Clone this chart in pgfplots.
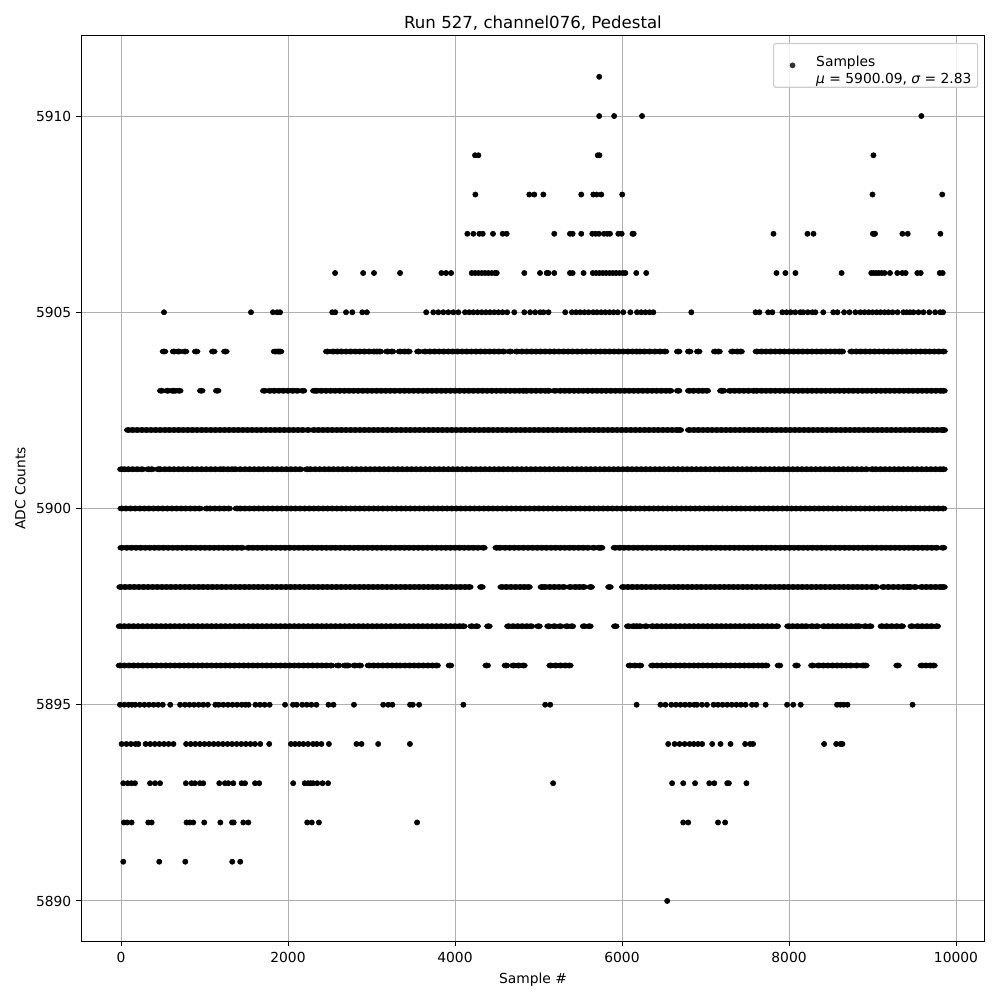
\documentclass[border=0pt]{standalone}
\usepackage{pgfplots}
\pgfplotsset{compat=1.18}
\usepackage{fontspec}
\setmainfont{DejaVu Sans}
\begin{document}
\begin{tikzpicture}
\path[use as bounding box] (-58.54pt,-42.64pt) rectangle (664.16pt,680.06pt);
\begin{axis}[
  at={(0pt,0pt)},anchor=south west,
  scale only axis,width=653.3pt,height=654.05pt,
  xmin=-479,xmax=10347,ymin=5888.98,ymax=5912.04,
  xtick={0,2000,4000,6000,8000,10000},
  ytick={5890,5895,5900,5905,5910},
  scaled ticks=false,
  tick style={black,line width=0.7pt},
  tick align=outside,
  major tick length=3.5pt,
  axis line style={line width=0.7pt},
  xtick pos=bottom,ytick pos=left,
  grid=major,
  major grid style={color=black!31,line width=0.7pt},
  xticklabel style={font=\fontsize{10}{12}\selectfont,yshift=-1.4pt,/pgf/number format/1000 sep={},/pgf/number format/assume math mode=true},
  yticklabel style={font=\fontsize{10}{12}\selectfont,/pgf/number format/1000 sep={},/pgf/number format/assume math mode=true},
  xlabel={Sample \#},ylabel={ADC Counts},
  label style={font=\fontsize{10}{12}\selectfont},
  ylabel style={yshift=0.7pt},
  title={Run 527, channel076, Pedestal},
  title style={font=\fontsize{12}{14}\selectfont,yshift=-5.6pt},
  legend style={at={(0.9925,0.9923)},anchor=north east,draw=black!20,rounded corners=1.5pt,fill=white,fill opacity=0.8,text opacity=1,font=\fontsize{10}{12.8}\selectfont,inner xsep=2.5pt,inner ysep=5.4pt,line width=0.8pt},
  legend cell align=left,
  legend image code/.code={\path[draw=none,fill=none] (0,0) -- (26.3pt,0); \fill[black,draw=none] (11.2pt,0) circle (2.1pt);},
]
\addplot[only marks,mark=*,mark size=1.9pt,black,mark options={draw=black,fill=black}] coordinates {
(5727,5911)
(5727,5910)(5906,5910)(6240,5910)(9585,5910)
(4240,5909)(4280,5909)(5710,5909)(5730,5909)(9011,5909)
(4244,5908)(4890,5908)(4950,5908)(5058,5908)(5512,5908)(5656,5908)(5696,5908)(5752,5908)(6003,5908)(9000,5908)(9835,5908)
(4148,5907)(4220,5907)(4292,5907)(4332,5907)(4455,5907)(4571,5907)(4619,5907)(5189,5907)(5377,5907)(5409,5907)(5512,5907)(5644,5907)(5684,5907)(5724,5907)(5784,5907)(5824,5907)(5856,5907)(5956,5907)(5996,5907)(6125,5907)(6140,5907)(7814,5907)(8221,5907)(8293,5907)(9005,5907)(9020,5907)(9030,5907)(9358,5907)(9422,5907)(9813,5907)
(2564,5906)(2900,5906)(3030,5906)(3342,5906)(3837,5906)(3893,5906)(3953,5906)(4200,5906)(4240,5906)(4280,5906)(4320,5906)(4360,5906)(4400,5906)(4440,5906)(4480,5906)(4500,5906)(4830,5906)(5018,5906)(5098,5906)(5120,5906)(5189,5906)(5377,5906)(5409,5906)(5540,5906)(5650,5906)(5690,5906)(5730,5906)(5770,5906)(5810,5906)(5850,5906)(5890,5906)(5930,5906)(5970,5906)(6010,5906)(6040,5906)(6171,5906)(6290,5906)(7850,5906)(7957,5906)(8077,5906)(8630,5906)(8985,5906)(9015,5906)(9045,5906)(9075,5906)(9110,5906)(9145,5906)(9209,5906)(9297,5906)(9357,5906)(9397,5906)(9537,5906)(9577,5906)(9805,5906)(9840,5906)
(515,5905)(1557,5905)(1820,5905)(1870,5905)(1905,5905)(2530,5905)(2565,5905)(2695,5905)(2770,5905)(2890,5905)(2945,5905)(3655,5905)(3740,5905)(3800,5905)(3860,5905)(3920,5905)(3980,5905)(4040,5905)(4120,5905)(4170,5905)(4220,5905)(4270,5905)(4320,5905)(4370,5905)(4420,5905)(4470,5905)(4520,5905)(4570,5905)(4625,5905)(4710,5905)(4830,5905)(4900,5905)(4960,5905)(5020,5905)(5060,5905)(5120,5905)(5320,5905)(5400,5905)(5450,5905)(5500,5905)(5550,5905)(5600,5905)(5655,5905)(5700,5905)(5750,5905)(5800,5905)(5850,5905)(5900,5905)(5950,5905)(6015,5905)(6100,5905)(6180,5905)(6230,5905)(6280,5905)(6330,5905)(6375,5905)(6830,5905)(7600,5905)(7645,5905)(7750,5905)(7800,5905)(7920,5905)(7970,5905)(8020,5905)(8075,5905)(8135,5905)(8170,5905)(8225,5905)(8280,5905)(8315,5905)(8410,5905)(8530,5905)(8580,5905)(8660,5905)(8725,5905)(8795,5905)(8855,5905)(8905,5905)(8955,5905)(9000,5905)(9050,5905)(9095,5905)(9145,5905)(9190,5905)(9240,5905)(9300,5905)(9370,5905)(9410,5905)(9450,5905)(9490,5905)(9550,5905)(9610,5905)(9680,5905)(9750,5905)(9810,5905)(9845,5905)
(-12,5895)(40,5895)(90,5895)(130,5895)(170,5895)(225,5895)(280,5895)(335,5895)(390,5895)(445,5895)(500,5895)(590,5895)(708,5895)(765,5895)(820,5895)(875,5895)(930,5895)(985,5895)(1040,5895)(1130,5895)(1170,5895)(1225,5895)(1280,5895)(1335,5895)(1390,5895)(1445,5895)(1490,5895)(1528,5895)(1610,5895)(1665,5895)(1720,5895)(1780,5895)(1965,5895)(2060,5895)(2105,5895)(2170,5895)(2225,5895)(2280,5895)(2340,5895)(2485,5895)(2545,5895)(2790,5895)(3140,5895)(3200,5895)(3250,5895)(3462,5895)(3494,5895)(3570,5895)(4100,5895)(5080,5895)(5140,5895)(6175,5895)(6460,5895)(6520,5895)(6590,5895)(6645,5895)(6700,5895)(6755,5895)(6810,5895)(6865,5895)(6897,5895)(6957,5895)(7017,5895)(7097,5895)(7150,5895)(7205,5895)(7260,5895)(7315,5895)(7370,5895)(7425,5895)(7480,5895)(7557,5895)(7607,5895)(7720,5895)(7977,5895)(8050,5895)(8140,5895)(8575,5895)(8615,5895)(8655,5895)(8700,5895)(9480,5895)
(8,5894)(65,5894)(120,5894)(175,5894)(208,5894)(295,5894)(350,5894)(405,5894)(460,5894)(515,5894)(570,5894)(628,5894)(780,5894)(835,5894)(890,5894)(945,5894)(1000,5894)(1055,5894)(1110,5894)(1165,5894)(1220,5894)(1275,5894)(1330,5894)(1385,5894)(1440,5894)(1495,5894)(1550,5894)(1605,5894)(1668,5894)(1775,5894)(2035,5894)(2085,5894)(2135,5894)(2185,5894)(2240,5894)(2300,5894)(2345,5894)(2400,5894)(2490,5894)(2820,5894)(2880,5894)(3080,5894)(3460,5894)(6553,5894)(6630,5894)(6690,5894)(6750,5894)(6810,5894)(6860,5894)(6910,5894)(6960,5894)(7080,5894)(7180,5894)(7300,5894)(7475,5894)(7535,5894)(7570,5894)(8420,5894)(8565,5894)(8615,5894)(8640,5894)
(27,5893)(80,5893)(125,5893)(167,5893)(348,5893)(408,5893)(468,5893)(777,5893)(845,5893)(885,5893)(945,5893)(985,5893)(1177,5893)(1245,5893)(1285,5893)(1345,5893)(1445,5893)(1485,5893)(1605,5893)(1655,5893)(2062,5893)(2200,5893)(2240,5893)(2270,5893)(2300,5893)(2350,5893)(2413,5893)(2480,5893)(5175,5893)(6600,5893)(6733,5893)(6875,5893)(7045,5893)(7105,5893)(7260,5893)(7280,5893)(7490,5893)
(35,5892)(75,5892)(127,5892)(327,5892)(367,5892)(785,5892)(825,5892)(865,5892)(997,5892)(1190,5892)(1330,5892)(1350,5892)(1465,5892)(1525,5892)(2230,5892)(2285,5892)(2370,5892)(3546,5892)(6733,5892)(6793,5892)(7150,5892)(7235,5892)
(27,5891)(458,5891)(770,5891)(1332,5891)(1428,5891)
(6541,5890)
};
\addlegendentry{\begin{tabular}{@{}l@{}}Samples\\{\itshape μ} = 5900.09, {\itshape σ} = 2.83\end{tabular}}
\addplot[forget plot,only marks,mark=*,mark size=1.9pt,black,mark options={draw=black,fill=black,xscale=1.5}] coordinates {
(515,5904)(635,5904)(690,5904)(767,5904)(900,5904)(1105,5904)(1250,5904)(1845,5904)(1880,5904)(1905,5904)(2470,5904)(2540,5904)(2590,5904)(2640,5904)(2695,5904)(2750,5904)(2805,5904)(2860,5904)(2915,5904)(2970,5904)(3030,5904)(3065,5904)(3100,5904)(3190,5904)(3245,5904)(3342,5904)(3400,5904)(3442,5904)(3562,5904)(3640,5904)(3700,5904)(3755,5904)(3810,5904)(3865,5904)(3920,5904)(3975,5904)(4030,5904)(4085,5904)(4140,5904)(4195,5904)(4250,5904)(4305,5904)(4360,5904)(4415,5904)(4470,5904)(4525,5904)(4580,5904)(4660,5904)(4740,5904)(4800,5904)(4860,5904)(4915,5904)(4970,5904)(5025,5904)(5080,5904)(5135,5904)(5190,5904)(5245,5904)(5300,5904)(5355,5904)(5410,5904)(5465,5904)(5520,5904)(5575,5904)(5630,5904)(5685,5904)(5740,5904)(5795,5904)(5850,5904)(5905,5904)(5960,5904)(6015,5904)(6070,5904)(6125,5904)(6175,5904)(6215,5904)(6270,5904)(6330,5904)(6395,5904)(6455,5904)(6515,5904)(6673,5904)(6805,5904)(6913,5904)(7116,5904)(7156,5904)(7323,5904)(7380,5904)(7420,5904)(7615,5904)(7670,5904)(7725,5904)(7780,5904)(7835,5904)(7890,5904)(7945,5904)(8000,5904)(8055,5904)(8110,5904)(8165,5904)(8220,5904)(8275,5904)(8330,5904)(8385,5904)(8440,5904)(8495,5904)(8550,5904)(8600,5904)(8632,5904)(8750,5904)(8805,5904)(8860,5904)(8915,5904)(8970,5904)(9025,5904)(9080,5904)(9135,5904)(9190,5904)(9245,5904)(9300,5904)(9355,5904)(9410,5904)(9465,5904)(9520,5904)(9575,5904)(9630,5904)(9685,5904)(9740,5904)(9795,5904)(9850,5904)
(482,5903)(558,5903)(618,5903)(646,5903)(698,5903)(961,5903)(1152,5903)(1715,5903)(1783,5903)(1835,5903)(1890,5903)(1945,5903)(2000,5903)(2055,5903)(2110,5903)(2180,5903)(2315,5903)(2345,5903)(2400,5903)(2455,5903)(2510,5903)(2565,5903)(2620,5903)(2675,5903)(2730,5903)(2785,5903)(2840,5903)(2895,5903)(2950,5903)(3005,5903)(3060,5903)(3115,5903)(3170,5903)(3225,5903)(3280,5903)(3340,5903)(3395,5903)(3450,5903)(3505,5903)(3560,5903)(3615,5903)(3670,5903)(3725,5903)(3780,5903)(3835,5903)(3890,5903)(3945,5903)(4000,5903)(4055,5903)(4110,5903)(4165,5903)(4220,5903)(4275,5903)(4330,5903)(4385,5903)(4440,5903)(4495,5903)(4550,5903)(4605,5903)(4660,5903)(4715,5903)(4770,5903)(4820,5903)(4860,5903)(4915,5903)(4970,5903)(5025,5903)(5080,5903)(5120,5903)(5197,5903)(5260,5903)(5315,5903)(5370,5903)(5425,5903)(5480,5903)(5535,5903)(5590,5903)(5645,5903)(5700,5903)(5755,5903)(5810,5903)(5865,5903)(5920,5903)(5975,5903)(6030,5903)(6085,5903)(6140,5903)(6195,5903)(6250,5903)(6305,5903)(6360,5903)(6415,5903)(6470,5903)(6525,5903)(6575,5903)(6673,5903)(6805,5903)(6857,5903)(6916,5903)(6965,5903)(7016,5903)(7190,5903)(7210,5903)(7295,5903)(7350,5903)(7405,5903)(7460,5903)(7515,5903)(7575,5903)(7615,5903)(7670,5903)(7725,5903)(7780,5903)(7835,5903)(7890,5903)(7945,5903)(8000,5903)(8055,5903)(8110,5903)(8165,5903)(8220,5903)(8275,5903)(8330,5903)(8385,5903)(8440,5903)(8495,5903)(8550,5903)(8605,5903)(8660,5903)(8715,5903)(8770,5903)(8825,5903)(8880,5903)(8935,5903)(8990,5903)(9045,5903)(9100,5903)(9155,5903)(9210,5903)(9265,5903)(9320,5903)(9375,5903)(9430,5903)(9485,5903)(9540,5903)(9595,5903)(9650,5903)(9705,5903)(9760,5903)(9815,5903)(9850,5903)
(87,5902)(140,5902)(195,5902)(250,5902)(305,5902)(360,5902)(415,5902)(470,5902)(525,5902)(580,5902)(635,5902)(690,5902)(745,5902)(800,5902)(855,5902)(910,5902)(965,5902)(1020,5902)(1075,5902)(1130,5902)(1185,5902)(1240,5902)(1295,5902)(1350,5902)(1405,5902)(1460,5902)(1515,5902)(1570,5902)(1625,5902)(1680,5902)(1735,5902)(1790,5902)(1845,5902)(1900,5902)(1955,5902)(2010,5902)(2065,5902)(2120,5902)(2175,5902)(2240,5902)(2310,5902)(2365,5902)(2420,5902)(2475,5902)(2530,5902)(2585,5902)(2640,5902)(2695,5902)(2750,5902)(2805,5902)(2860,5902)(2915,5902)(2970,5902)(3025,5902)(3080,5902)(3135,5902)(3190,5902)(3245,5902)(3300,5902)(3355,5902)(3410,5902)(3465,5902)(3520,5902)(3575,5902)(3630,5902)(3685,5902)(3740,5902)(3795,5902)(3850,5902)(3905,5902)(3960,5902)(4015,5902)(4070,5902)(4125,5902)(4180,5902)(4235,5902)(4290,5902)(4345,5902)(4400,5902)(4455,5902)(4510,5902)(4565,5902)(4620,5902)(4675,5902)(4730,5902)(4785,5902)(4840,5902)(4895,5902)(4950,5902)(5005,5902)(5060,5902)(5115,5902)(5170,5902)(5225,5902)(5280,5902)(5335,5902)(5390,5902)(5445,5902)(5500,5902)(5555,5902)(5610,5902)(5665,5902)(5720,5902)(5775,5902)(5830,5902)(5885,5902)(5940,5902)(5995,5902)(6050,5902)(6105,5902)(6160,5902)(6215,5902)(6270,5902)(6325,5902)(6380,5902)(6435,5902)(6490,5902)(6545,5902)(6600,5902)(6655,5902)(6693,5902)(6805,5902)(6860,5902)(6915,5902)(6970,5902)(7025,5902)(7080,5902)(7135,5902)(7190,5902)(7245,5902)(7300,5902)(7355,5902)(7410,5902)(7465,5902)(7520,5902)(7575,5902)(7630,5902)(7685,5902)(7740,5902)(7795,5902)(7850,5902)(7905,5902)(7960,5902)(8015,5902)(8070,5902)(8125,5902)(8180,5902)(8235,5902)(8290,5902)(8345,5902)(8400,5902)(8455,5902)(8510,5902)(8565,5902)(8620,5902)(8675,5902)(8730,5902)(8785,5902)(8840,5902)(8895,5902)(8950,5902)(9005,5902)(9060,5902)(9115,5902)(9170,5902)(9225,5902)(9280,5902)(9335,5902)(9390,5902)(9445,5902)(9500,5902)(9555,5902)(9610,5902)(9665,5902)(9720,5902)(9775,5902)(9830,5902)(9855,5902)
(5,5901)(40,5901)(88,5901)(140,5901)(195,5901)(250,5901)(328,5901)(368,5901)(448,5901)(468,5901)(525,5901)(580,5901)(635,5901)(690,5901)(745,5901)(800,5901)(855,5901)(910,5901)(965,5901)(1020,5901)(1075,5901)(1130,5901)(1188,5901)(1228,5901)(1280,5901)(1330,5901)(1368,5901)(1428,5901)(1485,5901)(1540,5901)(1595,5901)(1650,5901)(1705,5901)(1760,5901)(1815,5901)(1870,5901)(1925,5901)(1980,5901)(2035,5901)(2090,5901)(2145,5901)(2228,5901)(2268,5901)(2325,5901)(2380,5901)(2435,5901)(2490,5901)(2545,5901)(2600,5901)(2655,5901)(2710,5901)(2765,5901)(2820,5901)(2875,5901)(2930,5901)(2985,5901)(3040,5901)(3095,5901)(3150,5901)(3205,5901)(3260,5901)(3315,5901)(3370,5901)(3425,5901)(3480,5901)(3535,5901)(3590,5901)(3645,5901)(3700,5901)(3755,5901)(3810,5901)(3865,5901)(3920,5901)(3975,5901)(4030,5901)(4085,5901)(4140,5901)(4195,5901)(4250,5901)(4305,5901)(4360,5901)(4415,5901)(4470,5901)(4525,5901)(4580,5901)(4635,5901)(4690,5901)(4745,5901)(4800,5901)(4855,5901)(4910,5901)(4965,5901)(5020,5901)(5075,5901)(5130,5901)(5185,5901)(5240,5901)(5295,5901)(5350,5901)(5405,5901)(5460,5901)(5515,5901)(5570,5901)(5625,5901)(5680,5901)(5735,5901)(5790,5901)(5845,5901)(5900,5901)(5955,5901)(6010,5901)(6065,5901)(6120,5901)(6175,5901)(6230,5901)(6285,5901)(6340,5901)(6395,5901)(6450,5901)(6505,5901)(6560,5901)(6615,5901)(6670,5901)(6725,5901)(6780,5901)(6835,5901)(6890,5901)(6945,5901)(7000,5901)(7055,5901)(7110,5901)(7165,5901)(7220,5901)(7275,5901)(7330,5901)(7385,5901)(7440,5901)(7495,5901)(7550,5901)(7605,5901)(7660,5901)(7715,5901)(7770,5901)(7825,5901)(7880,5901)(7935,5901)(7990,5901)(8045,5901)(8100,5901)(8155,5901)(8210,5901)(8265,5901)(8320,5901)(8375,5901)(8430,5901)(8485,5901)(8540,5901)(8595,5901)(8650,5901)(8705,5901)(8760,5901)(8815,5901)(8870,5901)(8925,5901)(8997,5901)(9040,5901)(9095,5901)(9150,5901)(9205,5901)(9260,5901)(9315,5901)(9370,5901)(9425,5901)(9480,5901)(9535,5901)(9590,5901)(9645,5901)(9700,5901)(9755,5901)(9810,5901)(9850,5901)
(8,5900)(60,5900)(115,5900)(170,5900)(225,5900)(280,5900)(335,5900)(390,5900)(445,5900)(500,5900)(555,5900)(610,5900)(665,5900)(720,5900)(775,5900)(830,5900)(885,5900)(940,5900)(1028,5900)(1068,5900)(1125,5900)(1180,5900)(1235,5900)(1290,5900)(1388,5900)(1428,5900)(1485,5900)(1540,5900)(1595,5900)(1650,5900)(1705,5900)(1760,5900)(1815,5900)(1870,5900)(1925,5900)(1980,5900)(2035,5900)(2090,5900)(2145,5900)(2200,5900)(2255,5900)(2310,5900)(2365,5900)(2420,5900)(2475,5900)(2530,5900)(2585,5900)(2640,5900)(2695,5900)(2750,5900)(2805,5900)(2860,5900)(2915,5900)(2970,5900)(3025,5900)(3080,5900)(3135,5900)(3190,5900)(3245,5900)(3300,5900)(3355,5900)(3410,5900)(3465,5900)(3520,5900)(3575,5900)(3630,5900)(3685,5900)(3740,5900)(3795,5900)(3850,5900)(3905,5900)(3960,5900)(4015,5900)(4070,5900)(4125,5900)(4180,5900)(4235,5900)(4290,5900)(4345,5900)(4400,5900)(4455,5900)(4510,5900)(4565,5900)(4620,5900)(4675,5900)(4730,5900)(4785,5900)(4840,5900)(4895,5900)(4950,5900)(5005,5900)(5060,5900)(5115,5900)(5170,5900)(5225,5900)(5280,5900)(5335,5900)(5390,5900)(5445,5900)(5500,5900)(5555,5900)(5610,5900)(5665,5900)(5720,5900)(5775,5900)(5830,5900)(5885,5900)(5940,5900)(5995,5900)(6050,5900)(6105,5900)(6160,5900)(6215,5900)(6270,5900)(6325,5900)(6380,5900)(6435,5900)(6490,5900)(6545,5900)(6600,5900)(6655,5900)(6710,5900)(6765,5900)(6820,5900)(6875,5900)(6930,5900)(6985,5900)(7040,5900)(7095,5900)(7150,5900)(7205,5900)(7260,5900)(7315,5900)(7370,5900)(7425,5900)(7480,5900)(7535,5900)(7590,5900)(7645,5900)(7700,5900)(7755,5900)(7810,5900)(7865,5900)(7920,5900)(7975,5900)(8030,5900)(8085,5900)(8140,5900)(8195,5900)(8250,5900)(8305,5900)(8360,5900)(8415,5900)(8470,5900)(8525,5900)(8580,5900)(8635,5900)(8690,5900)(8745,5900)(8800,5900)(8855,5900)(8910,5900)(8965,5900)(9020,5900)(9075,5900)(9130,5900)(9185,5900)(9240,5900)(9295,5900)(9350,5900)(9405,5900)(9460,5900)(9515,5900)(9570,5900)(9625,5900)(9680,5900)(9735,5900)(9790,5900)(9845,5900)
(8,5899)(68,5899)(125,5899)(180,5899)(235,5899)(290,5899)(345,5899)(400,5899)(455,5899)(510,5899)(565,5899)(620,5899)(675,5899)(730,5899)(785,5899)(840,5899)(895,5899)(950,5899)(1005,5899)(1060,5899)(1115,5899)(1170,5899)(1225,5899)(1280,5899)(1335,5899)(1390,5899)(1445,5899)(1528,5899)(1580,5899)(1635,5899)(1690,5899)(1745,5899)(1800,5899)(1855,5899)(1910,5899)(1965,5899)(2020,5899)(2075,5899)(2130,5899)(2185,5899)(2240,5899)(2295,5899)(2350,5899)(2405,5899)(2460,5899)(2515,5899)(2570,5899)(2625,5899)(2680,5899)(2735,5899)(2790,5899)(2845,5899)(2900,5899)(2955,5899)(3010,5899)(3065,5899)(3120,5899)(3175,5899)(3230,5899)(3285,5899)(3340,5899)(3395,5899)(3450,5899)(3505,5899)(3560,5899)(3615,5899)(3670,5899)(3725,5899)(3780,5899)(3835,5899)(3890,5899)(3945,5899)(4000,5899)(4055,5899)(4110,5899)(4165,5899)(4220,5899)(4275,5899)(4340,5899)(4500,5899)(4540,5899)(4600,5899)(4655,5899)(4710,5899)(4765,5899)(4820,5899)(4875,5899)(4930,5899)(4985,5899)(5040,5899)(5095,5899)(5150,5899)(5205,5899)(5260,5899)(5315,5899)(5370,5899)(5425,5899)(5480,5899)(5535,5899)(5590,5899)(5660,5899)(5725,5899)(5750,5899)(5915,5899)(5970,5899)(6025,5899)(6080,5899)(6135,5899)(6190,5899)(6245,5899)(6300,5899)(6355,5899)(6410,5899)(6465,5899)(6520,5899)(6575,5899)(6630,5899)(6685,5899)(6740,5899)(6795,5899)(6850,5899)(6905,5899)(6960,5899)(7015,5899)(7070,5899)(7125,5899)(7180,5899)(7235,5899)(7290,5899)(7345,5899)(7400,5899)(7455,5899)(7510,5899)(7565,5899)(7620,5899)(7675,5899)(7730,5899)(7785,5899)(7840,5899)(7895,5899)(7950,5899)(8005,5899)(8060,5899)(8115,5899)(8170,5899)(8225,5899)(8280,5899)(8335,5899)(8390,5899)(8445,5899)(8500,5899)(8555,5899)(8610,5899)(8665,5899)(8720,5899)(8775,5899)(8830,5899)(8885,5899)(8940,5899)(8995,5899)(9050,5899)(9105,5899)(9160,5899)(9215,5899)(9270,5899)(9325,5899)(9380,5899)(9435,5899)(9490,5899)(9545,5899)(9600,5899)(9655,5899)(9710,5899)(9765,5899)(9845,5899)
(-5,5898)(50,5898)(105,5898)(160,5898)(215,5898)(270,5898)(325,5898)(380,5898)(435,5898)(490,5898)(545,5898)(600,5898)(655,5898)(710,5898)(765,5898)(820,5898)(875,5898)(930,5898)(985,5898)(1040,5898)(1095,5898)(1150,5898)(1205,5898)(1260,5898)(1315,5898)(1370,5898)(1425,5898)(1480,5898)(1535,5898)(1590,5898)(1645,5898)(1700,5898)(1755,5898)(1810,5898)(1865,5898)(1920,5898)(1975,5898)(2030,5898)(2085,5898)(2140,5898)(2195,5898)(2250,5898)(2305,5898)(2360,5898)(2415,5898)(2470,5898)(2525,5898)(2580,5898)(2635,5898)(2690,5898)(2745,5898)(2800,5898)(2855,5898)(2910,5898)(2965,5898)(3020,5898)(3075,5898)(3130,5898)(3185,5898)(3240,5898)(3295,5898)(3350,5898)(3405,5898)(3460,5898)(3515,5898)(3570,5898)(3625,5898)(3680,5898)(3735,5898)(3790,5898)(3845,5898)(3900,5898)(3955,5898)(4010,5898)(4065,5898)(4120,5898)(4172,5898)(4316,5898)(4560,5898)(4615,5898)(4670,5898)(4725,5898)(4780,5898)(4830,5898)(4880,5898)(5040,5898)(5080,5898)(5135,5898)(5190,5898)(5245,5898)(5300,5898)(5380,5898)(5440,5898)(5490,5898)(5540,5898)(5625,5898)(5850,5898)(6015,5898)(6070,5898)(6125,5898)(6180,5898)(6235,5898)(6290,5898)(6345,5898)(6400,5898)(6455,5898)(6510,5898)(6565,5898)(6620,5898)(6675,5898)(6730,5898)(6785,5898)(6840,5898)(6895,5898)(6950,5898)(7005,5898)(7060,5898)(7115,5898)(7170,5898)(7225,5898)(7280,5898)(7335,5898)(7390,5898)(7445,5898)(7500,5898)(7555,5898)(7610,5898)(7665,5898)(7720,5898)(7775,5898)(7830,5898)(7885,5898)(7940,5898)(7995,5898)(8050,5898)(8105,5898)(8160,5898)(8215,5898)(8270,5898)(8325,5898)(8380,5898)(8435,5898)(8490,5898)(8545,5898)(8600,5898)(8655,5898)(8710,5898)(8765,5898)(8820,5898)(8875,5898)(8930,5898)(8990,5898)(9040,5898)(9130,5898)(9190,5898)(9250,5898)(9310,5898)(9370,5898)(9420,5898)(9450,5898)(9510,5898)(9590,5898)(9645,5898)(9700,5898)(9755,5898)(9810,5898)(9850,5898)
(-12,5897)(40,5897)(95,5897)(150,5897)(205,5897)(260,5897)(315,5897)(370,5897)(425,5897)(480,5897)(535,5897)(590,5897)(645,5897)(700,5897)(755,5897)(810,5897)(865,5897)(920,5897)(975,5897)(1030,5897)(1085,5897)(1140,5897)(1195,5897)(1250,5897)(1305,5897)(1360,5897)(1415,5897)(1470,5897)(1525,5897)(1580,5897)(1635,5897)(1690,5897)(1745,5897)(1800,5897)(1855,5897)(1910,5897)(1965,5897)(2020,5897)(2075,5897)(2130,5897)(2185,5897)(2240,5897)(2295,5897)(2350,5897)(2405,5897)(2460,5897)(2515,5897)(2570,5897)(2625,5897)(2680,5897)(2735,5897)(2790,5897)(2845,5897)(2900,5897)(2955,5897)(3010,5897)(3065,5897)(3120,5897)(3175,5897)(3230,5897)(3285,5897)(3342,5897)(3395,5897)(3450,5897)(3505,5897)(3560,5897)(3615,5897)(3670,5897)(3725,5897)(3780,5897)(3835,5897)(3890,5897)(3945,5897)(4000,5897)(4055,5897)(4100,5897)(4200,5897)(4260,5897)(4400,5897)(4640,5897)(4695,5897)(4750,5897)(4805,5897)(4860,5897)(4910,5897)(5000,5897)(5120,5897)(5190,5897)(5260,5897)(5340,5897)(5400,5897)(5545,5897)(5610,5897)(5920,5897)(6075,5897)(6135,5897)(6175,5897)(6215,5897)(6285,5897)(6365,5897)(6420,5897)(6475,5897)(6530,5897)(6585,5897)(6640,5897)(6695,5897)(6750,5897)(6805,5897)(6860,5897)(6915,5897)(6970,5897)(7025,5897)(7080,5897)(7135,5897)(7190,5897)(7245,5897)(7300,5897)(7355,5897)(7410,5897)(7465,5897)(7520,5897)(7575,5897)(7630,5897)(7685,5897)(7740,5897)(7795,5897)(7854,5897)(7994,5897)(8045,5897)(8100,5897)(8155,5897)(8205,5897)(8275,5897)(8335,5897)(8417,5897)(8470,5897)(8525,5897)(8580,5897)(8635,5897)(8690,5897)(8745,5897)(8800,5897)(8835,5897)(8912,5897)(8972,5897)(9112,5897)(9170,5897)(9230,5897)(9290,5897)(9350,5897)(9470,5897)(9540,5897)(9595,5897)(9650,5897)(9705,5897)(9770,5897)
(-12,5896)(40,5896)(95,5896)(150,5896)(205,5896)(260,5896)(315,5896)(370,5896)(425,5896)(480,5896)(535,5896)(590,5896)(645,5896)(700,5896)(755,5896)(810,5896)(865,5896)(920,5896)(975,5896)(1030,5896)(1085,5896)(1140,5896)(1195,5896)(1250,5896)(1305,5896)(1360,5896)(1415,5896)(1470,5896)(1525,5896)(1580,5896)(1635,5896)(1690,5896)(1745,5896)(1800,5896)(1855,5896)(1910,5896)(1965,5896)(2020,5896)(2075,5896)(2130,5896)(2185,5896)(2240,5896)(2295,5896)(2350,5896)(2405,5896)(2460,5896)(2515,5896)(2600,5896)(2685,5896)(2715,5896)(2800,5896)(2860,5896)(2970,5896)(3025,5896)(3080,5896)(3135,5896)(3190,5896)(3245,5896)(3300,5896)(3342,5896)(3400,5896)(3455,5896)(3510,5896)(3565,5896)(3620,5896)(3675,5896)(3730,5896)(3780,5896)(3940,5896)(4380,5896)(4610,5896)(4700,5896)(4760,5896)(4820,5896)(5145,5896)(5205,5896)(5265,5896)(5320,5896)(5370,5896)(6095,5896)(6155,5896)(6215,5896)(6365,5896)(6420,5896)(6475,5896)(6530,5896)(6585,5896)(6640,5896)(6695,5896)(6750,5896)(6805,5896)(6860,5896)(6915,5896)(6970,5896)(7025,5896)(7080,5896)(7135,5896)(7190,5896)(7245,5896)(7300,5896)(7355,5896)(7410,5896)(7465,5896)(7520,5896)(7575,5896)(7630,5896)(7680,5896)(7726,5896)(7880,5896)(8090,5896)(8280,5896)(8355,5896)(8410,5896)(8465,5896)(8520,5896)(8575,5896)(8630,5896)(8685,5896)(8740,5896)(8810,5896)(8885,5896)(8915,5896)(9300,5896)(9590,5896)(9640,5896)(9690,5896)(9730,5896)
};
\end{axis}
\end{tikzpicture}
\end{document}
